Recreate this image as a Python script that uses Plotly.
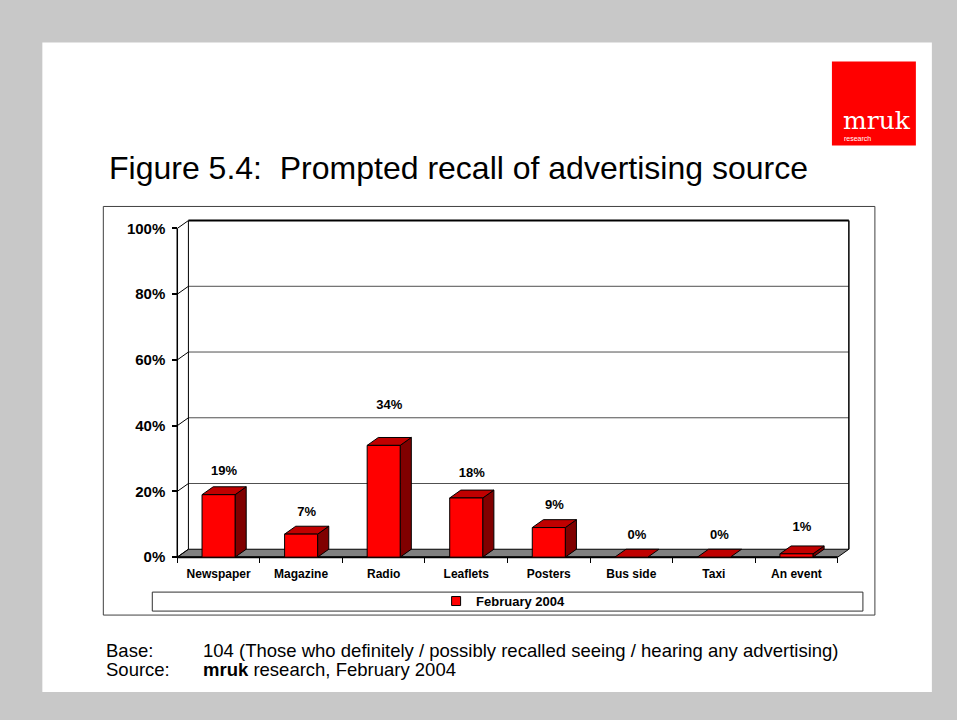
import plotly.graph_objects as go

# ---- data ----
categories = ["Newspaper", "Magazine", "Radio", "Leaflets", "Posters", "Bus side", "Taxi", "An event"]
recall_pct = [19, 7, 34, 18, 9, 0, 0, 1]
y_ticks = [0, 20, 40, 60, 80, 100]
y_tick_labels = ["0%", "20%", "40%", "60%", "80%", "100%"]
series_name = "February 2004"

# ---- look ----
FONT = "Liberation Sans, Arial, sans-serif"
FRONT, SIDE, TOP = "#ff0000", "#800000", "#c00000"
FLOOR = "#808080"
DX, DY = 0.135, 2.4          # depth offset of the 3-D box (x units, percent units)
BAR_W = 0.40                 # bar width in category units
label_lift = [7, 6.5, 12, 7.5, 6.5, 6.5, 6.5, 8]   # value-label height above each bar

W, H = 957, 720
X_RANGE = [-1, 8]
Y_RANGE = [-10, 112]
PX_X, PX_Y = 82.6, 3.29      # pixels per unit
ORIGIN_X, ORIGIN_Y = 177, 557
L = ORIGIN_X + (X_RANGE[0] + 0.5) * PX_X
R = W - (L + (X_RANGE[1] - X_RANGE[0]) * PX_X)
T = ORIGIN_Y - Y_RANGE[1] * PX_Y
B = H - (ORIGIN_Y - Y_RANGE[0] * PX_Y)
PW = W - L - R
PH = H - T - B


def xp(px):
    return (px - L) / PW


def yp(py):
    return (H - B - py) / PH


fig = go.Figure()


def poly(xs, ys, fill, line="black", width=1):
    fig.add_trace(go.Scatter(
        x=xs + [xs[0]], y=ys + [ys[0]], mode="lines", fill="toself",
        fillcolor=fill, line=dict(color=line, width=width),
        hoverinfo="skip", showlegend=False))


def seg(xs, ys, color="black", width=1):
    fig.add_trace(go.Scatter(
        x=xs, y=ys, mode="lines", line=dict(color=color, width=width),
        hoverinfo="skip", showlegend=False))


n = len(categories)
x0, x1 = -0.5, n - 0.5
top_val = y_ticks[-1]

# floor
poly([x0, x1, x1 + DX, x0 + DX], [0, 0, DY, DY], FLOOR)
seg([x0, x1], [0, 0], width=2)

# back-wall gridlines and the side-wall diagonals
for t in y_ticks[1:]:
    seg([x0 + DX, x1 + DX], [t + DY, t + DY],
        color="black" if t == top_val else "#505050",
        width=2 if t == top_val else 1)
for t in y_ticks:
    seg([x0, x0 + DX], [t, t + DY])
seg([x0 + DX, x0 + DX], [DY, top_val + DY])
seg([x1 + DX, x1 + DX], [DY, top_val + DY], width=1.5)
seg([x0, x0], [0, top_val], width=1.5)

# bars: side, top, front faces
for i, v in enumerate(recall_pct):
    a, b = i - BAR_W / 2, i + BAR_W / 2
    if v > 0:
        poly([b, b + DX, b + DX, b], [0, DY, v + DY, v], SIDE)
    poly([a, b, b + DX, a + DX], [v, v, v + DY, v + DY], TOP)
    if v > 0:
        poly([a, b, b, a], [0, 0, v, v], FRONT)

# value labels
fig.add_trace(go.Scatter(
    x=[i + DX / 2 for i in range(n)],
    y=[v + lift for v, lift in zip(recall_pct, label_lift)],
    mode="text", text=[f"{v}%" for v in recall_pct],
    textfont=dict(family=FONT, size=13, color="black", weight="bold"),
    hoverinfo="skip", showlegend=False, cliponaxis=False))

# legend entry
fig.add_trace(go.Scatter(
    x=[None], y=[None], mode="markers", name=series_name,
    marker=dict(symbol="square", size=9, color=FRONT, line=dict(color="black", width=1))))

fig.update_layout(
    width=W, height=H,
    margin=dict(l=L, r=R, t=T, b=B, pad=0),
    paper_bgcolor="#c8c8c8",
    plot_bgcolor="rgba(0,0,0,0)",
    font=dict(family=FONT, color="black"),
    xaxis=dict(
        range=X_RANGE, showgrid=False, zeroline=False, showline=False,
        anchor="free", position=(0 - Y_RANGE[0]) / (Y_RANGE[1] - Y_RANGE[0]),
        tickmode="array", tickvals=list(range(n)), ticktext=categories,
        ticks="outside", ticklen=0, ticklabelstandoff=5,
        tickfont=dict(family=FONT, size=12, weight="bold"),
        minor=dict(tickmode="array", tickvals=[k - 0.5 for k in range(n + 1)],
                   ticks="outside", ticklen=5, tickcolor="black", tickwidth=1),
    ),
    yaxis=dict(
        range=Y_RANGE, showgrid=False, zeroline=False, showline=False,
        anchor="free", position=(-0.5 - X_RANGE[0]) / (X_RANGE[1] - X_RANGE[0]),
        tickmode="array", tickvals=y_ticks, ticktext=y_tick_labels,
        ticks="outside", ticklen=5, tickcolor="black", tickwidth=1.5,
        ticklabelstandoff=4,
        tickfont=dict(family=FONT, size=15, weight="bold"),
    ),
    showlegend=True,
    legend=dict(
        x=xp(503), y=yp(601), xanchor="center", yanchor="middle",
        bgcolor="rgba(0,0,0,0)", borderwidth=0, orientation="h",
        font=dict(family=FONT, size=13, weight="bold"),
        itemwidth=30,
    ),
    shapes=[
        # white slide
        dict(type="rect", xref="paper", yref="paper", layer="below",
             x0=xp(42), x1=xp(932), y0=yp(42), y1=yp(692),
             fillcolor="white", line=dict(width=0)),
        # logo block
        dict(type="rect", xref="paper", yref="paper", layer="below",
             x0=xp(832), x1=xp(916), y0=yp(61), y1=yp(145),
             fillcolor="#ff0000", line=dict(width=0)),
        # chart frame
        dict(type="rect", xref="paper", yref="paper", layer="below",
             x0=xp(103), x1=xp(875), y0=yp(206), y1=yp(615),
             fillcolor="white", line=dict(color="#404040", width=1)),
        # legend frame
        dict(type="rect", xref="paper", yref="paper", layer="below",
             x0=xp(152), x1=xp(863), y0=yp(592), y1=yp(611),
             fillcolor="white", line=dict(color="#303030", width=1)),
    ],
    annotations=[
        dict(xref="paper", yref="paper", x=xp(107), y=yp(168), xanchor="left", yanchor="middle",
             text="Figure 5.4:\u00a0 Prompted recall of advertising source", showarrow=False,
             font=dict(family=FONT, size=32, color="black")),
        dict(xref="paper", yref="paper", x=xp(877), y=yp(120), xanchor="center", yanchor="middle",
             text="mruk", showarrow=False,
             font=dict(family="DejaVu Serif, serif", size=25, color="white")),
        dict(xref="paper", yref="paper", x=xp(842), y=yp(138), xanchor="left", yanchor="middle",
             text="research", showarrow=False,
             font=dict(family=FONT, size=7, color="white")),
        dict(xref="paper", yref="paper", x=xp(104), y=yp(650), xanchor="left", yanchor="middle",
             text="Base:", showarrow=False, font=dict(family=FONT, size=18.5)),
        dict(xref="paper", yref="paper", x=xp(201), y=yp(650), xanchor="left", yanchor="middle",
             text="104 (Those who definitely / possibly recalled seeing / hearing any advertising)",
             showarrow=False, font=dict(family=FONT, size=18.5)),
        dict(xref="paper", yref="paper", x=xp(104), y=yp(669), xanchor="left", yanchor="middle",
             text="Source:", showarrow=False, font=dict(family=FONT, size=18.5)),
        dict(xref="paper", yref="paper", x=xp(201), y=yp(669), xanchor="left", yanchor="middle",
             text="<b>mruk</b> research, February 2004", showarrow=False,
             font=dict(family=FONT, size=18.5)),
    ],
)

fig.write_html("out.html")
